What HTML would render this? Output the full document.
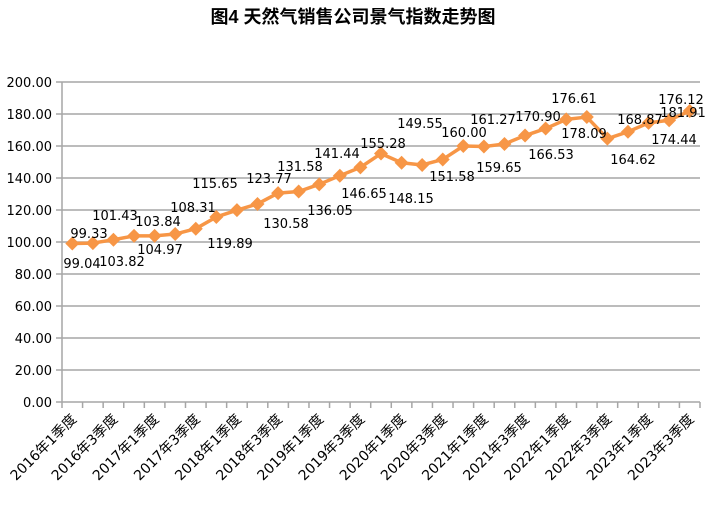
<!DOCTYPE html>
<html><head><meta charset="utf-8"><style>
body{margin:0;background:#fff;}
svg{display:block;font-family:"DejaVu Sans","Noto Sans CJK SC",sans-serif;}
</style></head><body>
<svg width="706" height="513" viewBox="0 0 706 513" xmlns="http://www.w3.org/2000/svg">
<text x="353" y="23" text-anchor="middle" font-size="18" font-weight="bold" font-family="'Liberation Sans','Noto Sans CJK SC',sans-serif">图4 天然气销售公司景气指数走势图</text>
<g id="grid" stroke="#a6a6a6" stroke-width="1.5"></g>
<g id="ylab" font-size="13" fill="#000" text-anchor="end"></g>
<g id="xlab" font-size="14" fill="#000"></g>
<polyline id="ln" fill="none" stroke="#f79646" stroke-width="3.5" stroke-linejoin="round"/>
<g id="mk" fill="#f79646"></g>
<g id="dl" font-size="13" fill="#000" text-anchor="middle"></g>
</svg>
<script>
const NS="http://www.w3.org/2000/svg";
function el(t,a,p,txt){const e=document.createElementNS(NS,t);for(const k in a)e.setAttribute(k,a[k]);if(txt)e.textContent=txt;document.getElementById(p).appendChild(e);}
const X0=62,X1=700,Y0=402,S=1.6,W=(X1-X0)/31;
for(let v=0;v<=200;v+=20){const y=Y0-v*S;el('line',{x1:X0-6,x2:X1,y1:y,y2:y},'grid');el('text',{x:52,y:y+5},'ylab',v.toFixed(2));}
el('line',{x1:X0,x2:X0,y1:82,y2:Y0},'grid');
for(let i=0;i<=31;i++){const x=X0+i*W;el('line',{x1:x,x2:x,y1:Y0,y2:Y0+6},'grid');}
const vals=[99.04,99.33,101.43,103.82,103.84,104.97,108.31,115.65,119.89,123.77,130.58,131.58,136.05,141.44,146.65,155.28,149.55,148.15,151.58,160.00,159.65,161.27,166.53,170.90,176.61,178.09,164.62,168.87,174.44,176.12,181.91];
let pts=[];
vals.forEach((v,i)=>{const x=X0+(i+0.5)*W,y=Y0-v*S;pts.push(x+','+y);el('polygon',{points:`${x},${y-7} ${x+7},${y} ${x},${y+7} ${x-7},${y}`},'mk');});
document.getElementById('ln').setAttribute('points',pts.join(' '));
const labs=[["99.04",82,263],["99.33",89,233],["101.43",115,215],["103.82",122,261],["103.84",158,221],["104.97",160,249],["108.31",193,207],["115.65",215,183],["119.89",230,243],["123.77",269,178],["130.58",286,223],["131.58",300,166],["136.05",330,210],["141.44",337,153],["146.65",364,193],["155.28",383,143],["148.15",411,198],["149.55",420,123],["151.58",452,176],["160.00",464,132],["159.65",499,167],["161.27",493,119],["166.53",551,154],["170.90",538,116],["176.61",574,98],["178.09",584,133],["164.62",633,159],["168.87",640,119],["174.44",674,139],["176.12",681,99],["181.91",683,112]];
labs.forEach(l=>el('text',{x:l[1],y:l[2]+5},'dl',l[0]));
for(let k=0;k<16;k++){const yr=2016+Math.floor(k/2),q=k%2?3:1;const i=2*k;const x=X0+(i+0.5)*W+5,y=420;
el('text',{x:x,y:y,'text-anchor':'end',transform:`rotate(-45 ${x} ${y})`},'xlab',`${yr}年${q}季度`);}
</script>
</body></html>
